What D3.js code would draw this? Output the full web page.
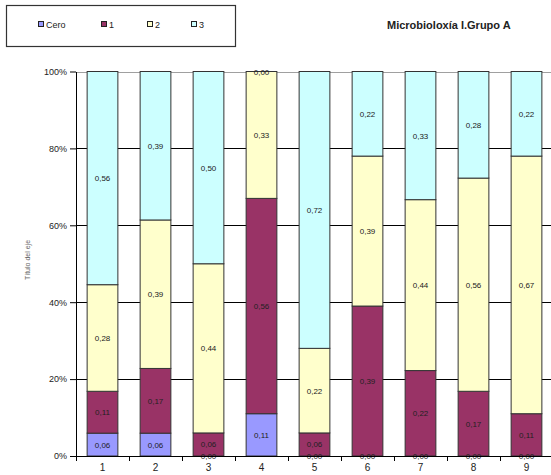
<!DOCTYPE html>
<html><head><meta charset="utf-8">
<script src="https://cdn.jsdelivr.net/npm/d3@7"></script>
<style>body{margin:0;background:#fff}svg{display:block;font-family:Arial,"Liberation Sans",sans-serif}</style>
</head><body>
<svg id="c" width="551" height="475"></svg>
<script>
const categories = ["1","2","3","4","5","6","7","8","9"];
const seriesNames = ["Cero","1","2","3"];
const cero = [0.06,0.06,0.00,0.11,0.00,0.00,0.00,0.00,0.00];
const uno  = [0.11,0.17,0.06,0.56,0.06,0.39,0.22,0.17,0.11];
const dos  = [0.28,0.39,0.44,0.33,0.22,0.39,0.44,0.56,0.67];
const tres = [0.56,0.39,0.50,0.00,0.72,0.22,0.33,0.28,0.22];
const yTicks = [0,0.2,0.4,0.6,0.8,1];
const colors = ["#9999FF","#993366","#FFFFCC","#CCFFFF"];

const svg = d3.select("#c");
const x = d3.scaleBand().domain(categories).range([76,553]).paddingInner(0.42).paddingOuter(0.21);
const y = d3.scaleLinear().domain([0,1]).range([456,71.5]);

const rows = categories.map((c,i)=>{
  const tot = cero[i]+uno[i]+dos[i]+tres[i];
  return {cat:c, Cero:cero[i]/tot, "1":uno[i]/tot, "2":dos[i]/tot, "3":tres[i]/tot,
          raw:{Cero:cero[i],"1":uno[i],"2":dos[i],"3":tres[i]}};
});
const stack = d3.stack().keys(seriesNames)(rows);

// gridlines
const band = x.step();
svg.append("g").selectAll("line").data(yTicks.filter(t=>t>0)).join("line")
  .attr("x1",76).attr("x2",551).attr("y1",d=>Math.round(y(d))+0.5).attr("y2",d=>Math.round(y(d))+0.5)
  .attr("stroke",d=>d===1?"#a0a0a0":"#000").attr("stroke-width",1);

// bars
stack.forEach((s,si)=>{
  svg.append("g").selectAll("rect").data(s).join("rect")
    .attr("x",d=>x(d.data.cat)).attr("width",x.bandwidth())
    .attr("y",d=>y(d[1])).attr("height",d=>y(d[0])-y(d[1]))
    .attr("fill",colors[si]).attr("stroke","#333").attr("stroke-width",1);
});
// labels
stack.forEach((s,si)=>{
  svg.append("g").selectAll("text").data(s).join("text")
    .attr("x",d=>x(d.data.cat)+x.bandwidth()/2)
    .attr("y",d=>(y(d[0])+y(d[1]))/2+3)
    .attr("text-anchor","middle").attr("font-size",8).attr("fill","#222")
    .text(d=>d.data.raw[s.key].toFixed(2).replace(".",","));
});

// y axis
const yAxis = svg.append("g").attr("transform","translate(76,0)")
  .call(d3.axisLeft(y).tickValues(yTicks).tickFormat(d=>Math.round(d*100)+"%").tickSize(6).tickSizeOuter(0));
yAxis.select(".domain").attr("stroke","#000");
yAxis.selectAll("text").attr("font-size",9).attr("fill","#222").attr("font-family","Arial,'Liberation Sans',sans-serif");
// x axis
const xAxis = svg.append("g").attr("transform","translate(0,456)");
xAxis.append("line").attr("x1",76).attr("x2",551).attr("y1",0.5).attr("y2",0.5).attr("stroke","#000");
xAxis.selectAll("line.tk").data(d3.range(0,10)).join("line").attr("class","tk")
  .attr("x1",i=>Math.round(76+i*band)+0.5).attr("x2",i=>Math.round(76+i*band)+0.5)
  .attr("y1",0).attr("y2",5).attr("stroke","#000");
xAxis.selectAll("text").data(categories).join("text")
  .attr("x",d=>x(d)+x.bandwidth()/2).attr("y",15).attr("text-anchor","middle")
  .attr("font-size",10).attr("fill","#222").text(d=>d);

// y title
svg.append("text").attr("transform","translate(30,260) rotate(-90)").attr("text-anchor","middle")
  .attr("font-size",7).attr("fill","#666").text("Título del eje");

// legend
svg.append("rect").attr("x",6.5).attr("y",5.5).attr("width",229).attr("height",41)
  .attr("fill","#fff").attr("stroke","#333").attr("stroke-width",1.2);
const lx = [38,101,147,191];
const lg = svg.append("g").selectAll("g").data(seriesNames).join("g")
  .attr("transform",(d,i)=>`translate(${lx[i]},25)`);
lg.append("rect").attr("x",0.5).attr("y",-3.5).attr("width",5).attr("height",5)
  .attr("fill",(d,i)=>colors[i]).attr("stroke","#222");
lg.append("text").attr("x",8).attr("y",3).attr("font-size",9).attr("fill","#222").text(d=>d);

// title
svg.append("text").attr("x",387).attr("y",29).attr("font-size",11).attr("font-weight","bold")
  .attr("fill","#222").text("Microbioloxía I.Grupo A");
</script>
</body></html>
